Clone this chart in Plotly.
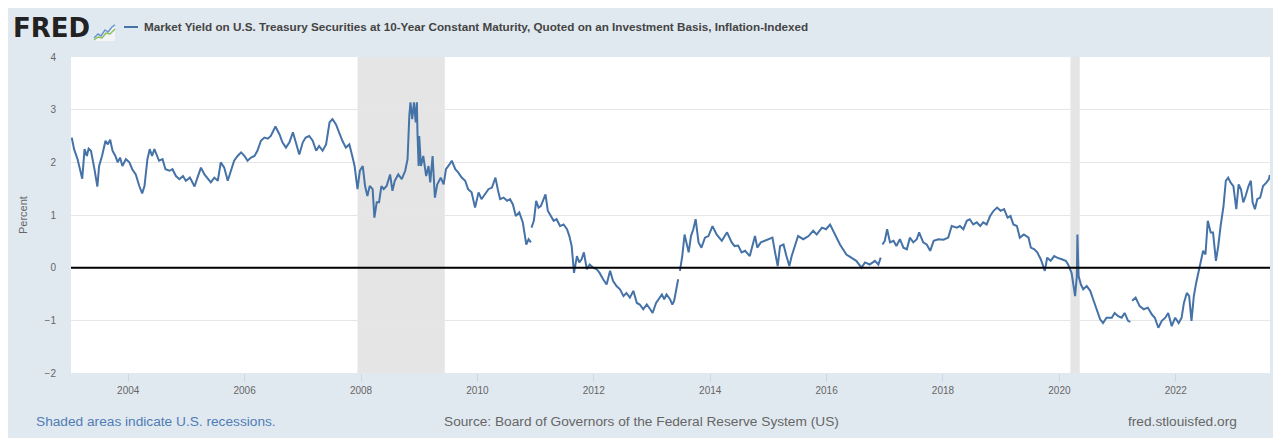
import plotly.graph_objects as go

# ---------------- data (decimal years, percent) ----------------
yr_a = [2003.03,2003.07,2003.13,2003.21,2003.25,2003.29,2003.32,2003.36,2003.42,2003.47,2003.50,2003.55,2003.61,2003.65,2003.69,2003.73,2003.78,2003.82,2003.86,2003.90,2003.96,2004.02,2004.07,2004.13,2004.19,2004.24,2004.28,2004.33,2004.37,2004.41,2004.45,2004.49,2004.53,2004.59,2004.64,2004.71,2004.76,2004.82,2004.88,2004.94,2004.99,2005.06,2005.14,2005.19,2005.25,2005.31,2005.37,2005.42,2005.48,2005.54,2005.59,2005.65,2005.71,2005.77,2005.82,2005.88,2005.94,2006.00,2006.05,2006.11,2006.17,2006.22,2006.28,2006.34,2006.40,2006.45,2006.53,2006.60,2006.65,2006.71,2006.77,2006.83,2006.88,2006.94,2007.00,2007.05,2007.11,2007.17,2007.23,2007.28,2007.34,2007.40,2007.46,2007.51,2007.57,2007.63,2007.68,2007.74,2007.80,2007.85,2007.89,2007.94]
val_a = [2.47,2.25,2.06,1.69,2.25,2.12,2.26,2.22,1.87,1.54,1.93,2.12,2.41,2.34,2.43,2.22,2.12,2.00,2.09,1.93,2.06,2.00,1.87,1.77,1.55,1.41,1.55,2.06,2.25,2.12,2.25,2.15,2.03,2.06,1.87,1.84,1.87,1.74,1.68,1.74,1.65,1.71,1.54,1.71,1.90,1.77,1.68,1.62,1.71,1.65,2.00,1.90,1.65,1.87,2.03,2.12,2.19,2.12,2.03,2.09,2.12,2.22,2.41,2.47,2.45,2.50,2.68,2.53,2.38,2.28,2.38,2.57,2.38,2.15,2.38,2.47,2.50,2.41,2.22,2.31,2.22,2.34,2.76,2.82,2.72,2.53,2.41,2.28,2.34,2.12,1.93,1.49]

yr_b = [2007.98,2008.03,2008.07,2008.11,2008.15,2008.20,2008.23,2008.27,2008.31,2008.35,2008.39,2008.44,2008.50,2008.54,2008.58,2008.64,2008.70,2008.76,2008.80,2008.83,2008.85,2008.88,2008.91,2008.94,2008.96,2008.97,2008.99,2009.00,2009.03,2009.07,2009.12,2009.16,2009.19,2009.23,2009.27,2009.31,2009.37,2009.42,2009.46,2009.52,2009.56,2009.62,2009.67,2009.73,2009.79,2009.84,2009.90,2009.96,2010.02,2010.07,2010.13,2010.19,2010.25,2010.31,2010.35,2010.39,2010.45,2010.51,2010.56,2010.61,2010.66,2010.72,2010.78,2010.84,2010.88,2010.92,2010.925,2010.93,2010.97,2011.01,2011.05,2011.09,2011.14,2011.17,2011.21,2011.25,2011.31,2011.36,2011.42,2011.48,2011.54,2011.58,2011.62,2011.66,2011.71,2011.75,2011.79,2011.83,2011.88,2011.93,2011.99,2012.05,2012.10,2012.16,2012.22,2012.28,2012.33,2012.39,2012.45,2012.51,2012.56,2012.62,2012.68,2012.74,2012.79,2012.85,2012.91,2012.97,2013.01,2013.07]
val_b = [1.84,1.93,1.55,1.36,1.55,1.49,0.95,1.24,1.24,1.55,1.49,1.55,1.77,1.46,1.65,1.77,1.68,1.84,2.06,2.88,3.14,2.82,3.14,2.76,3.14,2.57,1.93,2.50,1.93,2.12,1.74,1.93,1.62,2.12,1.33,1.58,1.71,1.58,1.87,1.96,2.03,1.87,1.81,1.71,1.65,1.49,1.43,1.14,1.43,1.30,1.39,1.49,1.52,1.71,1.49,1.30,1.33,1.27,1.30,1.20,0.98,1.05,0.86,0.44,0.54,0.48,None,0.76,0.89,1.27,1.14,1.17,1.30,1.39,1.08,1.01,0.89,0.92,0.79,0.82,0.73,0.60,0.41,-0.10,0.22,0.10,0.16,0.29,-0.03,0.06,0.00,-0.03,-0.10,-0.22,-0.32,-0.06,-0.25,-0.35,-0.41,-0.54,-0.48,-0.57,-0.44,-0.67,-0.70,-0.79,-0.70,-0.79,-0.86,-0.67]

yr_c = [2013.17,2013.21,2013.25,2013.31,2013.35,2013.38,2013.42,2013.45,2013.465,2013.48,2013.52,2013.56,2013.60,2013.63,2013.67,2013.71,2013.75,2013.80,2013.85,2013.91,2013.97,2014.04,2014.11,2014.20,2014.25,2014.29,2014.37,2014.42,2014.48,2014.54,2014.60,2014.68,2014.77,2014.81,2014.87,2014.94,2015.00,2015.07,2015.11,2015.16,2015.20,2015.26,2015.31,2015.36,2015.40,2015.46,2015.51,2015.60,2015.69,2015.77,2015.83,2015.92,2015.99,2016.06,2016.15]
val_c = [-0.51,-0.60,-0.51,-0.60,-0.70,-0.63,-0.41,-0.22,None,-0.06,0.22,0.63,0.44,0.29,0.60,0.73,0.92,0.48,0.38,0.57,0.60,0.79,0.63,0.51,0.60,0.67,0.48,0.41,0.42,0.29,0.32,0.22,0.60,0.38,0.48,0.51,0.54,0.57,0.32,0.03,0.41,0.44,0.22,0.03,0.22,0.44,0.60,0.54,0.60,0.70,0.63,0.76,0.73,0.82,0.63]

yr_d = [2016.23,2016.34,2016.43,2016.51,2016.60,2016.66,2016.74,2016.83,2016.89,2016.93,2016.945,2016.96,2017.00,2017.04,2017.09,2017.15,2017.20,2017.26,2017.32,2017.38,2017.43,2017.49,2017.55,2017.59,2017.66,2017.72,2017.78,2017.84,2017.92,2018.01,2018.09,2018.15,2018.24]
val_d = [0.44,0.25,0.19,0.13,0.00,0.10,0.06,0.13,0.06,0.19,None,0.44,0.51,0.73,0.48,0.51,0.41,0.54,0.38,0.35,0.57,0.48,0.54,0.67,0.48,0.44,0.32,0.51,0.54,0.53,0.57,0.79,0.76]

yr_e = [2018.29,2018.35,2018.41,2018.46,2018.52,2018.58,2018.64,2018.69,2018.75,2018.81,2018.87,2018.93,2018.99,2019.05,2019.11,2019.16,2019.21,2019.27,2019.32,2019.39,2019.47,2019.51,2019.57,2019.62,2019.68,2019.75,2019.79,2019.85,2019.91,2019.96,2020.04,2020.11,2020.15,2020.21,2020.27,2020.30,2020.31,2020.33,2020.37,2020.41,2020.47,2020.53,2020.58,2020.64,2020.70,2020.75,2020.81,2020.90,2020.95,2021.01,2021.07,2021.12,2021.18,2021.22,2021.235,2021.25,2021.31,2021.38,2021.45,2021.52,2021.59,2021.64,2021.70,2021.76,2021.82,2021.87,2021.93,2021.99,2022.05,2022.10,2022.14,2022.19,2022.23,2022.27,2022.31,2022.35,2022.40,2022.44,2022.47,2022.51,2022.55,2022.60,2022.64,2022.69,2022.73,2022.77,2022.82,2022.86,2022.90,2022.94,2022.99,2023.04,2023.08,2023.12,2023.16,2023.20,2023.25,2023.29,2023.32,2023.36,2023.40,2023.45,2023.50,2023.56,2023.60,2023.615]
val_e = [0.79,0.73,0.89,0.92,0.82,0.86,0.79,0.86,0.82,0.98,1.08,1.14,1.08,1.11,0.95,0.98,0.82,0.79,0.57,0.63,0.57,0.38,0.35,0.29,0.16,-0.06,0.19,0.13,0.22,0.19,0.16,0.13,0.06,-0.10,-0.54,-0.16,0.63,-0.16,-0.32,-0.41,-0.35,-0.44,-0.60,-0.79,-0.98,-1.05,-0.95,-0.95,-0.86,-0.92,-0.95,-0.86,-1.01,-1.03,None,-0.63,-0.57,-0.73,-0.79,-0.76,-0.89,-0.95,-1.14,-1.01,-0.95,-0.86,-1.11,-0.95,-1.05,-0.95,-0.67,-0.48,-0.54,-1.01,-0.54,-0.29,-0.06,0.16,0.32,0.25,0.89,0.67,0.67,0.13,0.41,0.79,1.17,1.65,1.71,1.62,1.55,1.11,1.58,1.49,1.24,1.36,1.55,1.65,1.24,1.11,1.30,1.33,1.55,1.62,1.68,1.76]

recession_start = [2007.94, 2020.19]
recession_end = [2009.44, 2020.35]

x_range = [2003.017, 2023.619]
y_range = [-2, 4]
tick_years = [2004, 2006, 2008, 2010, 2012, 2014, 2016, 2018, 2020, 2022]
tick_labels = [str(t) for t in tick_years]
y_ticks = [-2, -1, 0, 1, 2, 3, 4]

title_text = ("Market Yield on U.S. Treasury Securities at 10-Year Constant Maturity, "
              "Quoted on an Investment Basis, Inflation-Indexed")

# ---------------- figure ----------------
# the page body keeps an 8px margin, so the figure sits 8px in from the window's top-left
OFF = 8
W, H = 1281 - OFF, 438 - OFF
PLOT_L, PLOT_R, PLOT_T, PLOT_B = 71, 1270, 57, 373   # in window pixels
L, T = PLOT_L - OFF, PLOT_T - OFF
PW, PH = PLOT_R - PLOT_L, PLOT_B - PLOT_T
R, B = W - L - PW, H - T - PH


def px(X):
    return (X - PLOT_L) / PW


def py(Y):
    return (PLOT_B - Y) / PH


years = yr_a + yr_b + yr_c + yr_d + yr_e
values = val_a + val_b + val_c + val_d + val_e

BG = "#e1e9f0"
LINE = "#4572a7"
FONT = "Liberation Sans, Arial, sans-serif"

fig = go.Figure()
fig.add_trace(go.Scatter(
    x=years, y=values, mode="lines",
    line=dict(color=LINE, width=2),
    connectgaps=False, showlegend=False, hoverinfo="x+y",
))

shapes = []
for s, e in zip(recession_start, recession_end):
    shapes.append(dict(type="rect", xref="x", yref="paper", x0=s, x1=e, y0=0, y1=1,
                       fillcolor="#e5e5e5", line=dict(width=0), layer="below"))
# zero line above the series
shapes.append(dict(type="line", xref="paper", yref="y", x0=0, x1=1, y0=0, y1=0,
                   line=dict(color="#000000", width=2), layer="above"))
# legend swatch
shapes.append(dict(type="line", xref="paper", yref="paper", x0=px(124), x1=px(138), y0=py(27), y1=py(27),
                   line=dict(color=LINE, width=2), layer="above"))


def path(points):
    return "M " + " L ".join(f"{px(a):.5f},{py(b):.5f}" for a, b in points)


# small FRED chart icon
icon_blue = [(94, 38), (98, 34), (101, 36), (105, 30), (108, 32), (112, 27), (115, 25)]
icon_green = [(94, 40), (98, 37), (102, 38), (106, 33), (110, 34), (115, 29)]
fill_pts = icon_blue + [(115, 41), (94, 41)]
shapes.append(dict(type="path", xref="paper", yref="paper", path=path(fill_pts) + " Z",
                   fillcolor="#f2f4f6", line=dict(width=0), layer="above"))
shapes.append(dict(type="path", xref="paper", yref="paper", path=path(icon_green),
                   line=dict(color="#8cbf5a", width=1.5), layer="above"))
shapes.append(dict(type="path", xref="paper", yref="paper", path=path(icon_blue),
                   line=dict(color="#6a96cf", width=1.5), layer="above"))

annotations = [
    dict(text="<b>FRED</b>", x=px(11), y=py(28), xref="paper", yref="paper",
         xanchor="left", yanchor="middle", showarrow=False,
         font=dict(family="DejaVu Sans, sans-serif", size=26, color="#222222")),
    dict(text="<b>" + title_text + "</b>", x=px(142), y=py(27), xref="paper", yref="paper",
         xanchor="left", yanchor="middle", showarrow=False,
         font=dict(family=FONT, size=11.7, color="#444444")),
    dict(text="Percent", x=px(23), y=0.5, xref="paper", yref="paper", textangle=-90,
         xanchor="center", yanchor="middle", showarrow=False,
         font=dict(family=FONT, size=11, color="#666666")),
    dict(text="Shaded areas indicate U.S. recessions.", x=px(34), y=py(421), xref="paper", yref="paper",
         xanchor="left", yanchor="middle", showarrow=False,
         font=dict(family=FONT, size=13.7, color="#4f7cb5")),
    dict(text="Source: Board of Governors of the Federal Reserve System (US)", x=px(641), y=py(421),
         xref="paper", yref="paper", xanchor="center", yanchor="middle", showarrow=False,
         font=dict(family=FONT, size=13.7, color="#666666")),
    dict(text="fred.stlouisfed.org", x=px(1239), y=py(421), xref="paper", yref="paper",
         xanchor="right", yanchor="middle", showarrow=False,
         font=dict(family=FONT, size=13.7, color="#666666")),
]

fig.update_layout(
    width=W, height=H, autosize=False,
    margin=dict(l=L, r=R, t=T, b=B, pad=0),
    paper_bgcolor=BG, plot_bgcolor="#ffffff",
    font=dict(family=FONT, color="#666666"),
    shapes=shapes, annotations=annotations, showlegend=False,
    xaxis=dict(range=x_range, tickvals=tick_years, ticktext=tick_labels,
               showgrid=False, zeroline=False, showline=False,
               ticks="outside", ticklen=8, tickcolor="#ccd6eb", tickwidth=1,
               tickfont=dict(size=10, color="#666666")),
    yaxis=dict(range=y_range, tickvals=y_ticks, showgrid=True, gridcolor="#e6e6e6", gridwidth=1,
               zeroline=False, showline=False, ticks="", ticklabelstandoff=14,
               tickfont=dict(size=10, color="#666666")),
)

fig.write_html("out.html")
